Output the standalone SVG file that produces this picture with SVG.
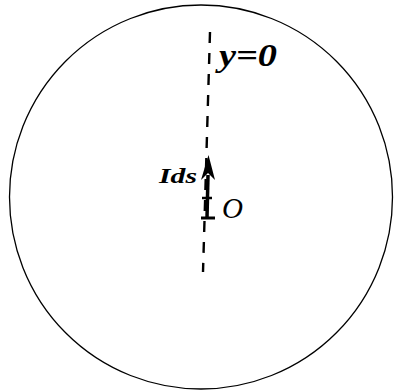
<svg xmlns="http://www.w3.org/2000/svg" width="395" height="391" viewBox="0 0 395 391">
<style>
.hand{font-family:"Liberation Serif",serif;font-style:italic;fill:#000}
</style>
<rect width="395" height="391" fill="#fff"/>
<g id="circle"><ellipse cx="201" cy="197" rx="191.5" ry="192" fill="none" stroke="#000" stroke-width="1.3"/></g>
<g id="connectors">
<line x1="210" y1="32" x2="203" y2="272" stroke="#000" stroke-width="2.4" stroke-dasharray="11,10"/>
<line x1="208" y1="175" x2="207" y2="218" stroke="#000" stroke-width="3.5"/>
<polygon points="208.5,155 201,180 208,173 215,180" fill="#000"/>
<line x1="201" y1="218" x2="215" y2="218" stroke="#000" stroke-width="3"/>
<line x1="202" y1="198" x2="212" y2="198" stroke="#000" stroke-width="2.5"/>
</g>
<g id="labels">
<text class="hand" x="159" y="183" font-size="22" font-weight="bold" textLength="38" lengthAdjust="spacingAndGlyphs">Ids</text>
<text class="hand" x="222" y="218" font-size="29">O</text>
<text class="hand" x="219" y="66" font-size="32" font-weight="bold" textLength="58" lengthAdjust="spacingAndGlyphs">y=0</text>
</g>
</svg>
